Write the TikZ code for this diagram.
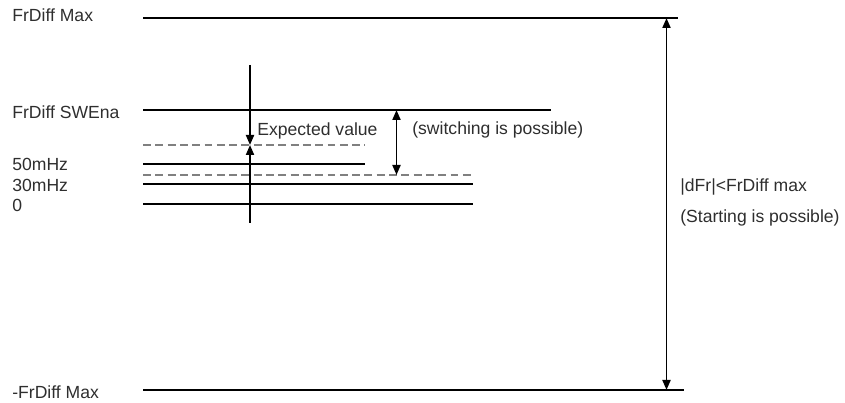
\documentclass[tikz,border=0pt]{standalone}
\usepackage{fontspec}
\setmainfont{Liberation Sans}
\usetikzlibrary{arrows.meta}

\begin{document}
\begin{tikzpicture}[
  level/.style={line width=1.15pt},
  dashlevel/.style={line width=0.7pt, gray, dash pattern=on 4.5pt off 2.5pt},
  lvllabel/.style={anchor=west, inner sep=0pt, text=black!82},
  note/.style={anchor=west, inner sep=0pt, text=black!82},
  arr/.style={line width=1.1pt, -{Triangle[length=2mm, width=1.6mm]}},
  darr/.style={line width=1.1pt, {Triangle[length=2mm, width=1.6mm]}-{Triangle[length=2mm, width=1.6mm]}},
]
\useasboundingbox (0,0) rectangle (16.9,8.06);

% Level labels
\node[lvllabel] (lblMax) at (0.24, 7.76) {FrDiff Max};
\node[lvllabel] (lblSWEna) at (0.24, 5.82) {FrDiff SWEna};
\node[lvllabel] (lbl50) at (0.24, 4.78) {50mHz};
\node[lvllabel] (lbl30) at (0.24, 4.36) {30mHz};
\node[lvllabel] (lbl0) at (0.24, 3.96) {0};
\node[lvllabel] (lblMin) at (0.24, 0.22) {-FrDiff Max};

% Level lines
\draw[level] (2.86, 7.70) -- (13.56, 7.70);
\draw[level] (2.86, 5.86) -- (11.02, 5.86);
\draw[dashlevel] (2.86, 5.16) -- (7.30, 5.16);
\draw[level] (2.86, 4.78) -- (7.30, 4.78);
\draw[dashlevel] (2.86, 4.56) -- (9.46, 4.56);
\draw[level] (2.86, 4.38) -- (9.46, 4.38);
\draw[level] (2.86, 3.98) -- (9.46, 3.98);
\draw[level] (2.86, 0.26) -- (13.68, 0.26);

% Arrow end points
\coordinate (expTop) at (5.00, 6.76);
\coordinate (expVal) at (5.00, 5.16);
\coordinate (expBot) at (5.00, 3.60);
\coordinate (swTop) at (7.93, 5.86);
\coordinate (swBot) at (7.93, 4.56);
\coordinate (rngTop) at (13.33, 7.70);
\coordinate (rngBot) at (13.33, 0.26);

% Expected value
\draw[arr] (expTop) -- (expVal);
\draw[arr] (expBot) -- (expVal);
\node[note] (txtExp) at (5.14, 5.44) {Expected value};

% Switching band
\draw[darr] (swTop) -- (swBot);
\node[note] (txtSwitch) at (8.24, 5.46) {(switching is possible)};

% Starting band
\draw[darr] (rngTop) -- (rngBot);
\node[note] (txtRange) at (13.60, 4.32) {|dFr|<FrDiff max};
\node[note] (txtStart) at (13.60, 3.70) {(Starting is possible)};

\end{tikzpicture}
\end{document}
